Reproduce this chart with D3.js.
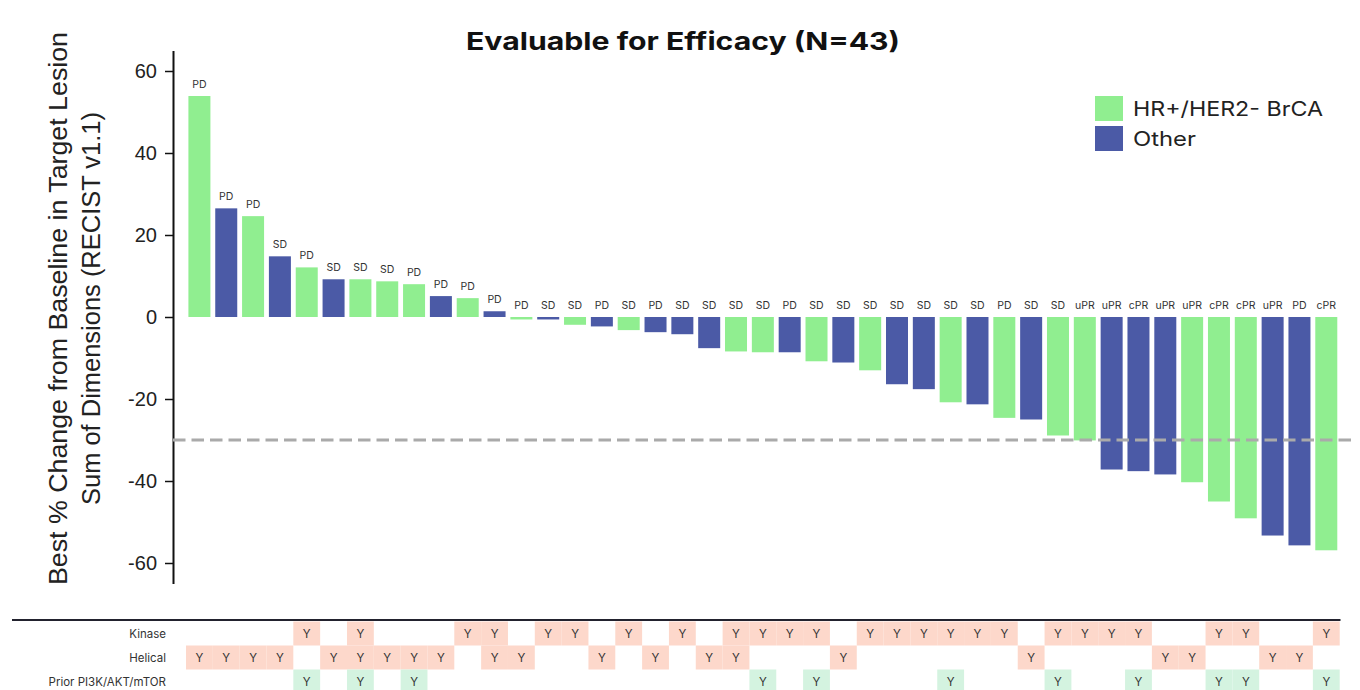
<!DOCTYPE html>
<html>
<head>
<meta charset="utf-8">
<script src="https://cdn.jsdelivr.net/npm/d3@7"></script>
<style>
  body { margin: 0; background: #fff; }
  svg { display: block; }
</style>
</head>
<body>
<div id="chart"></div>
<script>
// ------------------------- waterfall data (one entry per patient)
var values = [53.9, 26.5, 24.6, 14.8, 12.1, 9.2, 9.2, 8.7, 8.0, 5.1, 4.6, 1.4, -0.6, -0.6,
    -1.9, -2.3, -3.2, -3.7, -4.2, -7.6, -8.4, -8.6, -8.6, -10.8, -11.1, -13.0, -16.4, -17.6,
    -20.8, -21.3, -24.6, -25.0, -28.9, -30.1, -37.2, -37.6, -38.4, -40.3, -45.0, -49.1,
    -53.3, -55.7, -56.9];
var groups = ["G","B","G","B","G","B","G","G","G","B","G","B","G","B",
    "G","B","G","B","B","B","G","G","B","G","B","G","B","B",
    "G","B","G","B","G","G","B","B","B","G","G","G",
    "B","B","G"];
var responses = ["PD","PD","PD","SD","PD","SD","SD","SD","PD","PD","PD","PD","PD","SD",
    "SD","PD","SD","PD","SD","SD","SD","SD","PD","SD","SD","SD","SD","SD",
    "SD","SD","PD","SD","SD","uPR","uPR","cPR","uPR","uPR","cPR","cPR",
    "uPR","PD","cPR"];

// table rows below the bars (1 = "Y")
var kinase  = [0,0,0,0,1,0,1,0,0,0,1,1,0,1,1,0,1,0,1,0,1,1,1,1,0,1,1,1,1,1,1,0,1,1,1,1,0,0,1,1,0,0,1];
var helical = [1,1,1,1,0,1,1,1,1,1,0,1,1,0,0,1,0,1,0,1,1,0,0,0,1,0,0,0,0,0,0,1,0,0,0,0,1,1,0,0,1,1,0];
var prior   = [0,0,0,0,1,0,1,0,1,0,0,0,0,0,0,0,0,0,0,0,0,1,0,1,0,0,0,0,1,0,0,0,1,0,0,1,0,0,1,1,0,0,1];
var rowNames = ["Kinase", "Helical", "Prior PI3K/AKT/mTOR"];

var legendNames = ["HR+/HER2- BrCA", "Other"];
var yTicks = [60, 40, 20, 0, -20, -40, -60];
var threshold = -30;

function drawChart() {
    var width = 1360, height = 690;
    var green = "#90ee90", blue = "#4b5aa6";
    var colorOf = { G: green, B: blue };

    var svg = d3.select("#chart").append("svg")
        .attr("width", width)
        .attr("height", height);

    var x = d3.scaleBand()
        .domain(d3.range(values.length))
        .range([186, 1339.7])
        .padding(0);
    var barPad = x.bandwidth() * 0.09;
    var barW = x.bandwidth() - 2 * barPad;

    var y = d3.scaleLinear()
        .domain([-65, 65])
        .range([583.5, 50.5]);

    // title
    svg.append("text")
        .attr("x", 683)
        .attr("y", 50)
        .attr("text-anchor", "middle")
        .attr("textLength", 434)
        .attr("lengthAdjust", "spacingAndGlyphs")
        .style("font-family", "Inter, 'Liberation Sans', sans-serif")
        .style("font-weight", "bold")
        .style("font-size", "24.5px")
        .style("fill", "#111")
        .text("Evaluable for Efficacy (N=43)");

    // y axis
    var yAxis = svg.append("g")
        .attr("transform", "translate(173,0)")
        .call(d3.axisLeft(y).tickValues(yTicks).tickSize(8).tickPadding(8).tickSizeOuter(0)
            .tickFormat(function(d) { return String(d); }));
    yAxis.select(".domain").attr("stroke", "#111").attr("stroke-width", 2);
    yAxis.selectAll(".tick line").attr("stroke", "#111").attr("stroke-width", 1.5);
    yAxis.selectAll(".tick text")
        .style("font-family", "'Liberation Sans', Arial, sans-serif")
        .style("font-size", "20px")
        .style("fill", "#222");

    // y label (two lines)
    var yl = svg.append("text")
        .attr("transform", "translate(0,308.5) rotate(-90)")
        .attr("text-anchor", "middle")
        .style("font-family", "'Liberation Sans', Arial, sans-serif")
        .style("font-size", "26px")
        .style("fill", "#222");
    yl.append("tspan").attr("x", 0).attr("y", 67)
        .attr("textLength", 553).attr("lengthAdjust", "spacingAndGlyphs")
        .text("Best % Change from Baseline in Target Lesion");
    yl.append("tspan").attr("x", 0).attr("y", 100)
        .attr("textLength", 393).attr("lengthAdjust", "spacingAndGlyphs")
        .text("Sum of Dimensions (RECIST v1.1)");

    // bars
    svg.selectAll("rect.bar")
        .data(values)
        .enter()
        .append("rect")
        .attr("class", "bar")
        .attr("x", function(d, i) { return x(i) + barPad; })
        .attr("width", barW)
        .attr("y", function(d) { return y(Math.max(0, d)); })
        .attr("height", function(d) { return Math.abs(y(d) - y(0)); })
        .attr("fill", function(d, i) { return colorOf[groups[i]]; });

    // response labels
    svg.selectAll("text.resp")
        .data(values)
        .enter()
        .append("text")
        .attr("class", "resp")
        .attr("x", function(d, i) { return x(i) + x.bandwidth() / 2; })
        .attr("y", function(d) { return y(Math.max(0, d)) - 8; })
        .attr("text-anchor", "middle")
        .style("font-family", "Inter, 'Liberation Sans', sans-serif")
        .style("font-size", "10.5px")
        .style("fill", "#333")
        .text(function(d, i) { return responses[i]; });

    // -30% threshold
    svg.append("line")
        .attr("x1", 173)
        .attr("x2", 1356)
        .attr("y1", y(threshold))
        .attr("y2", y(threshold))
        .attr("stroke", "#aaa")
        .attr("stroke-width", 3)
        .attr("stroke-dasharray", "12.5,6");

    // legend
    var legendLen = [190, 63];
    var legend = svg.append("g").attr("transform", "translate(1095,96)");
    legendNames.forEach(function(name, i) {
        legend.append("rect")
            .attr("x", 0)
            .attr("y", i * 30)
            .attr("width", 28)
            .attr("height", 25)
            .attr("fill", i === 0 ? green : blue);
        legend.append("text")
            .attr("x", 38)
            .attr("y", i * 30 + 12.5)
            .attr("dy", "0.35em")
            .attr("textLength", legendLen[i])
            .attr("lengthAdjust", "spacingAndGlyphs")
            .style("font-family", "Inter, 'Liberation Sans', sans-serif")
            .style("font-size", "20px")
            .style("fill", "#222")
            .text(name);
    });

    // table
    var rows = [kinase, helical, prior];
    var rowFill = ["#fdd8cb", "#fdd8cb", "#d4f3e0"];
    var rowTop = 621.5, rowH = 24;

    rows.forEach(function(row, r) {
        var cells = row.map(function(d, i) { return { i: i, v: d }; })
            .filter(function(c) { return c.v === 1; });
        var g = svg.append("g");
        g.selectAll("rect")
            .data(cells)
            .enter()
            .append("rect")
            .attr("x", function(c) { return x(c.i); })
            .attr("width", x.bandwidth())
            .attr("y", rowTop + r * rowH)
            .attr("height", rowH)
            .attr("fill", rowFill[r]);
        g.selectAll("text")
            .data(cells)
            .enter()
            .append("text")
            .attr("x", function(c) { return x(c.i) + x.bandwidth() / 2; })
            .attr("y", rowTop + r * rowH + rowH / 2)
            .attr("dy", "0.35em")
            .attr("text-anchor", "middle")
            .style("font-family", "Inter, 'Liberation Sans', sans-serif")
            .style("font-size", "11.5px")
            .style("fill", "#333")
            .text("Y");
        svg.append("text")
            .attr("x", 166)
            .attr("y", rowTop + r * rowH + rowH / 2)
            .attr("dy", "0.35em")
            .attr("text-anchor", "end")
            .style("font-family", "Inter, 'Liberation Sans', sans-serif")
            .style("font-size", "11.5px")
            .style("fill", "#333")
            .text(rowNames[r]);
    });

    svg.append("line")
        .attr("x1", 12)
        .attr("x2", 1340.5)
        .attr("y1", 620)
        .attr("y2", 620)
        .attr("stroke", "#22222e")
        .attr("stroke-width", 2);
}

drawChart();
</script>
</body>
</html>
